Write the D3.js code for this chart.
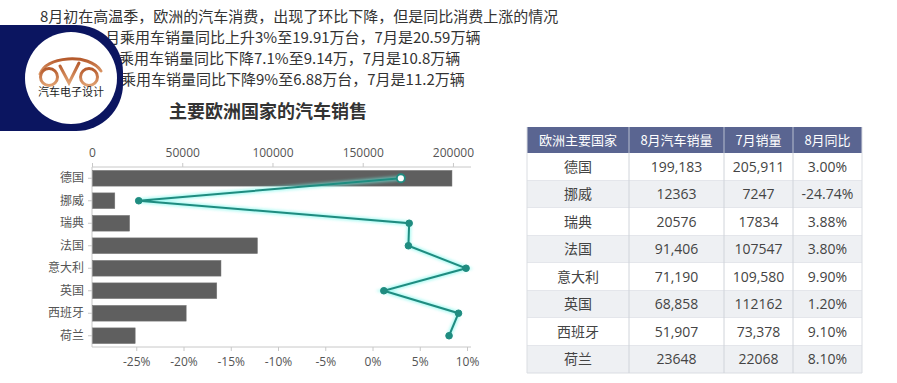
<!DOCTYPE html>
<html><head><meta charset="utf-8">
<script src="https://cdn.jsdelivr.net/npm/d3@7"></script>
<style>
html,body{margin:0;padding:0;background:#fff;}
svg{display:block;}
</style></head>
<body>
<svg id="c" width="897" height="383"></svg>
<script>
// ---- data ----
const introLine = "8月初在高温季，欧洲的汽车消费，出现了环比下降，但是同比消费上涨的情况";
const noteLines = [
  "月乘用车销量同比上升3%至19.91万台，7月是20.59万辆",
  "乘用车销量同比下降7.1%至9.14万，7月是10.8万辆",
  "乘用车销量同比下降9%至6.88万台，7月是11.2万辆"
];
const chartTitle = "主要欧洲国家的汽车销售";
const countries = ["德国", "挪威", "瑞典", "法国", "意大利", "英国", "西班牙", "荷兰"];
const augSales = [199183, 12363, 20576, 91406, 71190, 68858, 51907, 23648];
const julSales = [205911, 7247, 17834, 107547, 109580, 112162, 73378, 22068];
const yoyPct = [3.00, -24.74, 3.88, 3.80, 9.90, 1.20, 9.10, 8.10];
const salesTicks = [0, 50000, 100000, 150000, 200000];
const pctTicks = [-25, -20, -15, -10, -5, 0, 5, 10];
const tableHeader = ["欧洲主要国家", "8月汽车销量", "7月销量", "8月同比"];
const augLabels = ["199,183", "12363", "20576", "91,406", "71,190", "68,858", "51,907", "23648"];
const julLabels = ["205,911", "7247", "17834", "107547", "109,580", "112162", "73,378", "22068"];
const yoyLabels = ["3.00%", "-24.74%", "3.88%", "3.80%", "9.90%", "1.20%", "9.10%", "8.10%"];
const logoText = "汽车电子设计";

(function () {
const svg = d3.select("#c");
const CJK = "'Noto Sans CJK SC','Noto Sans',sans-serif";
const NUM = "'Open Sans','Noto Sans CJK SC',sans-serif";

// ---- intro text ----
svg.append("text").attr("x", 40).attr("y", 22).attr("font-family", CJK).attr("font-size", 15)
  .attr("fill", "#333").text(introLine);
const noteX = [105, 119, 121];
noteLines.forEach((b, i) => {
  svg.append("text").attr("x", noteX[i]).attr("y", 43 + i * 21).attr("font-family", CJK)
    .attr("font-size", 15).attr("fill", "#333").text(b);
});

// ---- logo ----
const logo = svg.append("g");
logo.append("path").attr("fill", "#0b1560")
  .attr("d", "M0,25 H76 A47,47 0 0 1 123,72 V84 A47,47 0 0 1 76,131 H0 Z");
logo.append("circle").attr("cx", 71).attr("cy", 78).attr("r", 46).attr("fill", "#fff");
const grad = svg.append("defs").append("linearGradient").attr("id", "carg").attr("x1", 0).attr("x2", 0).attr("y1", 0).attr("y2", 1);
grad.append("stop").attr("offset", 0).attr("stop-color", "#b55a2c");
grad.append("stop").attr("offset", 1).attr("stop-color", "#e0a070");
const car = logo.append("g").attr("fill", "none").attr("stroke", "url(#carg)").attr("stroke-width", 3).attr("stroke-linecap", "round");
car.append("path").attr("d", "M40,74 C44,64 56,60 68,59 C82,58 95,62 101,71");
car.append("circle").attr("cx", 49).attr("cy", 77).attr("r", 8.5);
car.append("circle").attr("cx", 89).attr("cy", 77).attr("r", 8.5);
car.append("path").attr("d", "M60,66 L69,83 L79,63");
logo.append("text").attr("x", 71).attr("y", 96).attr("text-anchor", "middle").attr("font-family", CJK)
  .attr("font-size", 11).attr("fill", "#222").text(logoText);

// ---- chart ----
svg.append("text").attr("x", 268).attr("y", 118).attr("text-anchor", "middle").attr("font-family", CJK)
  .attr("font-size", 18).attr("font-weight", "bold").attr("fill", "#333").text(chartTitle);

const pL = 92, pR = 471, pT = 167, pB = 347;
const x = d3.scaleLinear().domain([0, 210000]).range([pL, pR]);
const xp = d3.scaleLinear().domain([-30, 10]).range([89, 467]);
const y = d3.scaleBand().domain(countries).range([pT, pB]).paddingInner(0.3).paddingOuter(0.15);

const axisColor = "#c8c8c8", labelColor = "#555";

const gTop = svg.append("g").attr("transform", `translate(0,${pT})`)
  .call(d3.axisTop(x).tickValues(salesTicks).tickSize(4).tickPadding(6).tickFormat(d3.format("d")));
const gBot = svg.append("g").attr("transform", `translate(0,${pB})`)
  .call(d3.axisBottom(xp).tickValues(pctTicks).tickSize(4).tickPadding(6).tickFormat(d => d + "%"));
const gLeft = svg.append("g").attr("transform", `translate(${pL},0)`)
  .call(d3.axisLeft(y).tickSize(4).tickPadding(4));
[gTop, gBot, gLeft].forEach(g => {
  g.select(".domain").remove();
  g.selectAll(".tick line").attr("stroke", axisColor);
  g.selectAll(".tick text").attr("fill", labelColor).attr("font-size", 12);
});
gTop.selectAll(".tick text").attr("font-family", NUM);
gBot.selectAll(".tick text").attr("font-family", NUM);
gLeft.selectAll(".tick text").attr("font-family", CJK);
svg.append("line").attr("x1", pL).attr("x2", pR).attr("y1", pT).attr("y2", pT).attr("stroke", axisColor);
svg.append("line").attr("x1", pL).attr("x2", pR).attr("y1", pB).attr("y2", pB).attr("stroke", axisColor);
svg.append("line").attr("x1", pL).attr("x2", pL).attr("y1", pT).attr("y2", pB).attr("stroke", axisColor);

// bars
svg.append("g").selectAll("rect").data(countries).join("rect")
  .attr("x", x(0) + 0.5).attr("y", d => y(d))
  .attr("width", (d, i) => x(augSales[i]) - x(0)).attr("height", y.bandwidth())
  .attr("fill", "#5f5f5f").attr("stroke", "#7a7a7a").attr("stroke-width", 0.5);

// line
const defs = svg.append("defs");
defs.append("filter").attr("id", "glow").attr("x", "-10%").attr("y", "-10%").attr("width", "120%").attr("height", "120%")
  .append("feGaussianBlur").attr("stdDeviation", 1.6);
const pts = countries.map((c, i) => [xp(yoyPct[i]), y(c) + y.bandwidth() / 2]);
const line = d3.line();
svg.append("path").attr("d", line(pts)).attr("fill", "none").attr("stroke", "#6ff7ea")
  .attr("stroke-width", 4.5).attr("opacity", 0.6).attr("filter", "url(#glow)");
svg.append("path").attr("d", line(pts)).attr("fill", "none").attr("stroke", "#1f8c80").attr("stroke-width", 2);
svg.append("g").selectAll("circle").data(pts).join("circle")
  .attr("cx", d => d[0]).attr("cy", d => d[1])
  .attr("r", (d, i) => i === 0 ? 4 : 3.3)
  .attr("fill", (d, i) => i === 0 ? "#fff" : "#1f8c80")
  .attr("stroke", "#1f8c80").attr("stroke-width", (d, i) => i === 0 ? 1.8 : 1);

// ---- table ----
const colX = [527, 629, 724, 793, 862];
const headTop = 127, headH = 26, rowH = 27.5;
const tbl = svg.append("g");
tbl.append("rect").attr("x", colX[0]).attr("y", headTop).attr("width", colX[4] - colX[0]).attr("height", headH)
  .attr("fill", "#5a6591");
tableHeader.forEach((h, j) => {
  tbl.append("text").attr("x", (colX[j] + colX[j + 1]) / 2).attr("y", headTop + headH / 2 + 5)
    .attr("text-anchor", "middle").attr("font-family", CJK).attr("font-size", 13).attr("fill", "#fff").text(h);
});
const rows = countries.map((c, i) => [c, augLabels[i], julLabels[i], yoyLabels[i]]);
rows.forEach((r, i) => {
  const ry = headTop + headH + i * rowH;
  tbl.append("rect").attr("x", colX[0]).attr("y", ry).attr("width", colX[4] - colX[0]).attr("height", rowH)
    .attr("fill", i % 2 ? "#eef0f3" : "#fff");
  r.forEach((v, j) => {
    tbl.append("text").attr("x", (colX[j] + colX[j + 1]) / 2).attr("y", ry + rowH / 2 + 5)
      .attr("text-anchor", "middle").attr("font-family", j === 0 ? CJK : NUM).attr("font-size", 14)
      .attr("fill", "#444").text(v);
  });
  tbl.append("line").attr("x1", colX[0]).attr("x2", colX[4]).attr("y1", ry + rowH).attr("y2", ry + rowH)
    .attr("stroke", "#dadde2");
});
const tBottom = headTop + headH + rows.length * rowH;
colX.forEach((cx, j) => {
  tbl.append("line").attr("x1", cx).attr("x2", cx).attr("y1", headTop).attr("y2", tBottom)
    .attr("stroke", j === 0 || j === 4 ? "#dadde2" : "#d0d4da");
});
colX.slice(1, 4).forEach(cx => {
  tbl.append("line").attr("x1", cx).attr("x2", cx).attr("y1", headTop).attr("y2", headTop + headH)
    .attr("stroke", "#7d87ab");
});
})();
</script>
</body></html>
